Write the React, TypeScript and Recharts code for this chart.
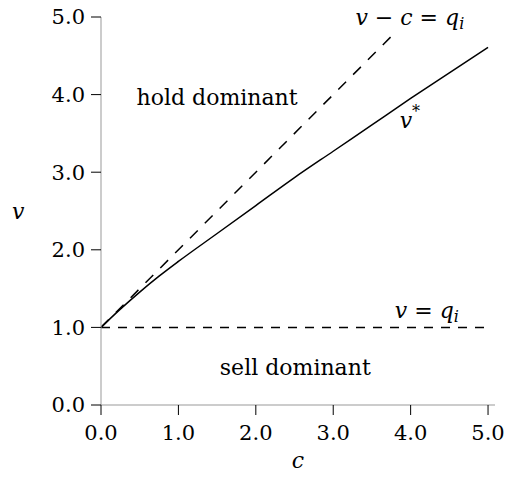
import React from 'react';
import { ComposedChart, Line, XAxis, YAxis, ReferenceDot } from 'recharts';

// threshold curve v*(c)
const cValues = [0, 0.25, 0.5, 0.75, 1, 1.5, 2, 2.5, 3, 3.5, 4, 4.5, 5];
const vStarValues = [1, 1.235, 1.455, 1.66, 1.85, 2.21, 2.57, 2.93, 3.27, 3.61, 3.95, 4.28, 4.61];

// v - c = q_i  (q_i = 1)
const diagC = [0, 3.8];
const diagV = [1, 4.8];

// v = q_i
const flatC = [0, 5];
const flatV = [1, 1];

const ticks = [0, 1, 2, 3, 4, 5];

const FONT = 'DejaVu Serif';

const vStarData = cValues.map((c, i) => ({ c, v: vStarValues[i] }));
const diagData = diagC.map((c, i) => ({ c, v: diagV[i] }));
const flatData = flatC.map((c, i) => ({ c, v: flatV[i] }));

const Sub = ({ children }: { children: React.ReactNode }) => (
  <tspan fontStyle="italic" fontSize={16} dy={6}>
    {children}
  </tspan>
);

const It = ({ children }: { children: React.ReactNode }) => (
  <tspan fontStyle="italic">{children}</tspan>
);

const note = (content: React.ReactNode) => (p: any) => (
  <text
    x={p.cx}
    y={p.cy}
    textAnchor="middle"
    dominantBaseline="central"
    fontFamily={FONT}
    fontSize={22}
    fill="#000"
  >
    {content}
  </text>
);

const tickStyle = { fill: '#000', fontSize: 21, fontFamily: FONT };

const App: React.FC = () => {
  return (
    <div style={{ position: 'absolute', left: 0, top: 0, background: '#fff' }}>
      <ComposedChart width={505} height={479} margin={{ top: 17, right: 10, left: 0, bottom: 0 }}>
        <XAxis
          type="number"
          dataKey="c"
          domain={[0, 5.09]}
          ticks={ticks}
          tickFormatter={(t: number) => t.toFixed(1)}
          height={74}
          tickSize={10}
          tickMargin={10}
          axisLine={{ stroke: '#999' }}
          tickLine={{ stroke: '#000' }}
          tick={tickStyle}
          allowDataOverflow
          label={{
            value: 'c',
            position: 'insideBottom',
            offset: 11,
            fill: '#000',
            fontSize: 22,
            fontStyle: 'italic',
            fontFamily: FONT,
          }}
        />
        <YAxis
          type="number"
          dataKey="v"
          domain={[0, 5]}
          ticks={ticks}
          tickFormatter={(t: number) => t.toFixed(1)}
          width={101}
          tickSize={10}
          tickMargin={6}
          axisLine={{ stroke: '#999' }}
          tickLine={{ stroke: '#000' }}
          tick={tickStyle}
          label={{
            value: 'v',
            position: 'insideLeft',
            offset: 12,
            fill: '#000',
            fontSize: 22,
            fontStyle: 'italic',
            fontFamily: FONT,
          }}
        />
        <Line
          data={flatData}
          dataKey="v"
          stroke="#000"
          strokeWidth={1.5}
          strokeDasharray="9 8"
          dot={false}
          activeDot={false}
          isAnimationActive={false}
        />
        <Line
          data={diagData}
          dataKey="v"
          stroke="#000"
          strokeWidth={1.5}
          strokeDasharray="11 10"
          dot={false}
          activeDot={false}
          isAnimationActive={false}
        />
        <Line
          data={vStarData}
          dataKey="v"
          type="monotone"
          stroke="#000"
          strokeWidth={1.5}
          dot={false}
          activeDot={false}
          isAnimationActive={false}
        />
        <ReferenceDot x={1.5} y={3.96} r={0} shape={note('hold dominant')} />
        <ReferenceDot x={2.51} y={0.48} r={0} shape={note('sell dominant')} />
        <ReferenceDot
          x={3.99}
          y={5}
          r={0}
          ifOverflow="visible"
          shape={note(
            <>
              <It>v</It> − <It>c</It> = <It>q</It>
              <Sub>i</Sub>
            </>,
          )}
        />
        <ReferenceDot
          x={3.99}
          y={3.67}
          r={0}
          shape={note(
            <>
              <It>v</It>
              <tspan fontSize={16} dy={-9}>*</tspan>
            </>,
          )}
        />
        <ReferenceDot
          x={4.21}
          y={1.22}
          r={0}
          shape={note(
            <>
              <It>v</It> = <It>q</It>
              <Sub>i</Sub>
            </>,
          )}
        />
      </ComposedChart>
    </div>
  );
};

export default App;
